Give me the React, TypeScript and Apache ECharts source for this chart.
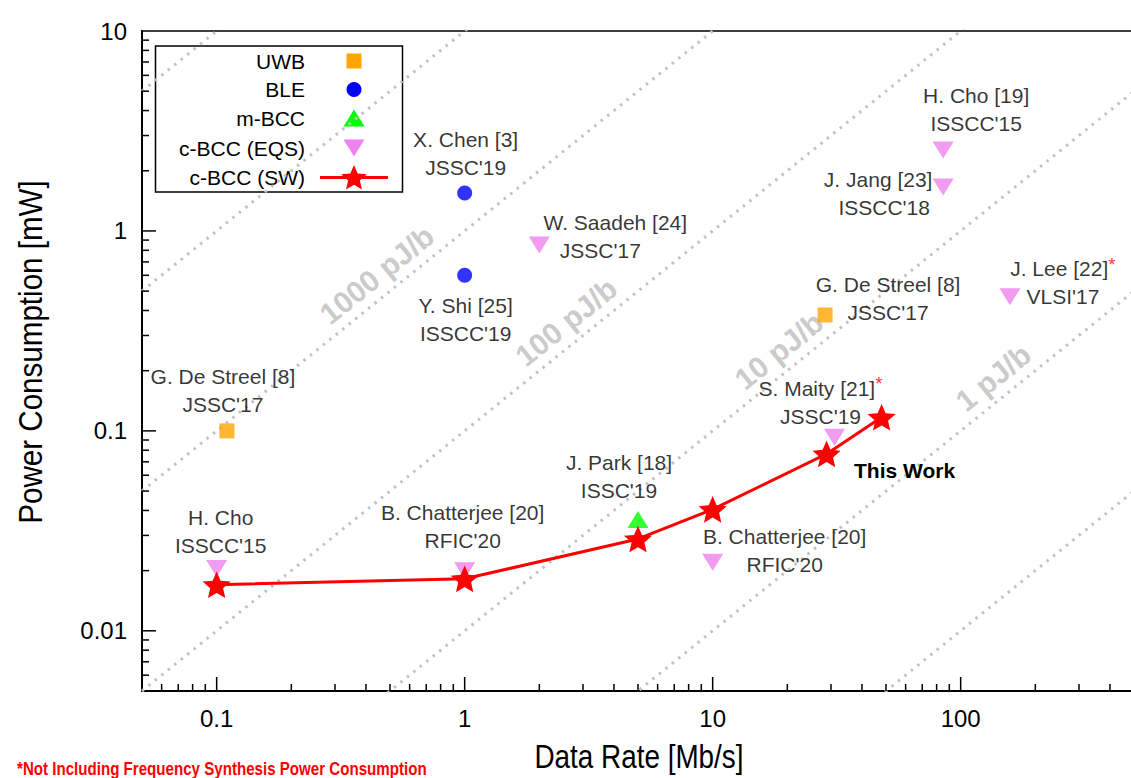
import React, { useEffect, useRef } from "react";
import * as echarts from "echarts";

// ---------------- data ----------------
const uwbRate = [0.11, 28.4];
const uwbPower = [0.1, 0.38];
const uwbRef = ["G. De Streel [8]", "G. De Streel [8]"];
const uwbVenue = ["JSSC'17", "JSSC'17"];

const bleRate = [1, 1];
const blePower = [1.55, 0.6];
const bleRef = ["X. Chen [3]", "Y. Shi [25]"];
const bleVenue = ["JSSC'19", "ISSCC'19"];

const mbccRate = [5];
const mbccPower = [0.036];
const mbccRef = ["J. Park [18]"];
const mbccVenue = ["ISSC'19"];

const eqsRate = [0.1, 1, 2, 10, 31, 85, 85, 158];
const eqsPower = [0.0205, 0.02, 0.85, 0.022, 0.093, 2.54, 1.66, 0.469];
const eqsRef = [
  "H. Cho",
  "B. Chatterjee [20]",
  "W. Saadeh [24]",
  "B. Chatterjee [20]",
  "S. Maity [21]",
  "H. Cho [19]",
  "J. Jang [23]",
  "J. Lee [22]",
];
const eqsVenue = ["ISSCC'15", "RFIC'20", "JSSC'17", "RFIC'20", "JSSC'19", "ISSCC'15", "ISSCC'18", "VLSI'17"];
const eqsStarred = [false, false, false, false, true, false, false, true];

const swRate = [0.1, 1, 5, 10, 28.8, 48];
const swPower = [0.017, 0.0182, 0.0288, 0.0405, 0.0767, 0.117];
const swLabel = "This Work";

// iso-energy lines (pJ/b)
const energyLevels = [100000, 10000, 1000, 100, 10, 1, 0.1];
const energyLabelLevels = [1000, 100, 10, 1];
const energyLabelText = ["1000 pJ/b", "100 pJ/b", "10 pJ/b", "1 pJ/b"];
const energyLabelRate = [0.5, 2.9, 20.9, 153];

const xMajorTicks = [0.1, 1, 10, 100];
const xMinorTicks = [
  0.06, 0.07, 0.08, 0.09, 0.2, 0.3, 0.4, 0.5, 0.6, 0.7, 0.8, 0.9, 2, 3, 4, 5, 6, 7, 8, 9, 20, 30, 40, 50, 60,
  70, 80, 90, 200, 300, 400,
];
const yMajorTicks = [0.01, 0.1, 1];
const yMinorTicks = [
  0.006, 0.007, 0.008, 0.009, 0.02, 0.03, 0.04, 0.05, 0.06, 0.07, 0.08, 0.09, 0.2, 0.3, 0.4, 0.5, 0.6, 0.7, 0.8,
  0.9, 2, 3, 4, 5, 6, 7, 8, 9,
];
const X_MIN = 0.05;
const X_MAX = 500;
const Y_MIN = 0.005;
const Y_MAX = 10;

const legendNames = ["UWB", "BLE", "m-BCC", "c-BCC (EQS)", "c-BCC (SW)"];

// ---------------- layout / style ----------------
const FONT_S = "'Liberation Sans', Arial, Helvetica, sans-serif";
const C_UWB = "#FFA500";
const C_BLE = "#0000FF";
const C_MBCC = "#00FF00";
const C_EQS = "#EE82EE";
const C_SW = "#FF0000";

const uwbOffset = [[-4, -40], [63, -16]];
const bleOffset = [[1, -39.5], [1, 44]];
const mbccOffset = [[-19, -43]];
const eqsOffset = [[4, -37], [-2, -44], [76, -9], [72, -11.5], [-14, -35], [33, -40], [-65, 7], [53, -14]];
const eqsLine2Shift = [0, 0, -15, 0, 0, 0, 6, 0];

function starPoints(cx: number, cy: number, R: number, r: number) {
  const pts: number[][] = [];
  for (let k = 0; k < 10; k++) {
    const a = -Math.PI / 2 + (k * Math.PI) / 5;
    const rad = k % 2 === 0 ? R : r;
    pts.push([cx + rad * Math.cos(a), cy + rad * Math.sin(a)]);
  }
  return pts;
}
const starPath =
  "path://" +
  starPoints(50, 50, 50, 23)
    .map((p, i) => (i === 0 ? "M" : "L") + p[0].toFixed(2) + "," + p[1].toFixed(2))
    .join(" ") +
  " Z";

const annoBase = { fontFamily: FONT_S, fontSize: 21, color: "#000", lineHeight: 28 };

function annoLabel(ref: string, venue: string, starred: boolean, offset: number[], shift = 0) {
  const first = starred ? `{a|${ref}}{s|*}` : `{a|${ref}}`;
  const pad = shift > 0 ? [0, 0, 0, 2 * shift] : [0, -2 * shift, 0, 0];
  return {
    show: true,
    position: "inside",
    offset,
    formatter: `${first}\n{b|${venue}}`,
    rich: {
      a: { ...annoBase },
      b: { ...annoBase, padding: pad },
      s: { fontFamily: FONT_S, fontSize: 19, color: "#ff0000", lineHeight: 28, verticalAlign: "top" },
    },
  };
}

function fmtNum(v: number) {
  return String(parseFloat(Number(v).toPrecision(6)));
}

function buildOption(): any {
  const series: any[] = [];

  // iso-energy dotted lines
  energyLevels.forEach((E) => {
    series.push({
      type: "line",
      data: [
        [X_MIN, (E * X_MIN) / 1000],
        [X_MAX, (E * X_MAX) / 1000],
      ],
      symbol: "none",
      showSymbol: false,
      silent: true,
      clip: true,
      z: 1,
      lineStyle: { color: "#c2c2c2", width: 3, type: [2.5, 5.8] },
    });
  });

  // iso-energy labels
  series.push({
    type: "scatter",
    silent: true,
    symbolSize: 1,
    itemStyle: { color: "rgba(0,0,0,0)" },
    z: 2,
    data: energyLabelLevels.map((E, i) => ({
      value: [energyLabelRate[i], (E * energyLabelRate[i]) / 1000],
      label: { formatter: energyLabelText[i] },
    })),
    label: {
      show: true,
      position: "inside",
      rotate: 38.9,
      offset: [0, -21],
      fontFamily: FONT_S,
      fontWeight: "bold",
      fontSize: 30,
      color: "#bdbdbd",
    },
  });

  // ticks
  const tickSeries = (vals: number[], axis: "x" | "y", len: number) => ({
    type: "custom",
    silent: true,
    z: 20,
    data: vals.map((v) => (axis === "x" ? [v, Y_MIN] : [X_MIN, v])),
    renderItem: (_p: any, api: any) => {
      const p = api.coord([api.value(0), api.value(1)]);
      return {
        type: "line",
        shape:
          axis === "x"
            ? { x1: p[0], y1: p[1], x2: p[0], y2: p[1] - len }
            : { x1: p[0], y1: p[1], x2: p[0] + len, y2: p[1] },
        style: { stroke: "#000", lineWidth: 1.5 },
      };
    },
  });
  series.push(tickSeries(xMajorTicks, "x", 14));
  series.push(tickSeries(xMinorTicks, "x", 7));
  series.push(tickSeries(yMajorTicks, "y", 14));
  series.push(tickSeries(yMinorTicks, "y", 7));

  series.push({
    name: "UWB",
    type: "scatter",
    silent: true,
    symbol: "rect",
    symbolSize: 15,
    itemStyle: { color: C_UWB },
    z: 10,
    data: uwbRate.map((r, i) => ({
      value: [r, uwbPower[i]],
      label: annoLabel(uwbRef[i], uwbVenue[i], false, uwbOffset[i]),
    })),
  });
  series.push({
    name: "BLE",
    type: "scatter",
    silent: true,
    symbol: "circle",
    symbolSize: 15,
    itemStyle: { color: C_BLE },
    z: 10,
    data: bleRate.map((r, i) => ({
      value: [r, blePower[i]],
      label: annoLabel(bleRef[i], bleVenue[i], false, bleOffset[i]),
    })),
  });
  series.push({
    name: "m-BCC",
    type: "scatter",
    silent: true,
    symbol: "triangle",
    symbolSize: [21, 17],
    itemStyle: { color: C_MBCC },
    z: 10,
    data: mbccRate.map((r, i) => ({
      value: [r, mbccPower[i]],
      label: annoLabel(mbccRef[i], mbccVenue[i], false, mbccOffset[i]),
    })),
  });
  series.push({
    name: "c-BCC (EQS)",
    type: "scatter",
    silent: true,
    symbol: "triangle",
    symbolRotate: 180,
    symbolSize: [21, 17],
    itemStyle: { color: C_EQS },
    z: 10,
    data: eqsRate.map((r, i) => ({
      value: [r, eqsPower[i]],
      label: annoLabel(eqsRef[i], eqsVenue[i], eqsStarred[i], eqsOffset[i], eqsLine2Shift[i]),
    })),
  });
  series.push({
    name: "c-BCC (SW)",
    type: "line",
    silent: true,
    symbol: starPath,
    symbolKeepAspect: true,
    symbolSize: 28,
    showSymbol: true,
    itemStyle: { color: C_SW },
    lineStyle: { color: C_SW, width: 3 },
    z: 12,
    data: swRate.map((r, i) =>
      i === swRate.length - 1
        ? {
            value: [r, swPower[i]],
            label: {
              show: true,
              position: "inside",
              offset: [23, 53],
              formatter: swLabel,
              fontFamily: FONT_S,
              fontWeight: "bold",
              fontSize: 21,
              color: "#000",
            },
          }
        : { value: [r, swPower[i]] }
    ),
  });

  // legend (drawn)
  const lx = 305;
  const sx = 354;
  const rows = [61, 89.5, 118, 148, 177.5];
  const legendChildren: any[] = [
    {
      type: "rect",
      shape: { x: 155.5, y: 46, width: 247, height: 146 },
      style: { fill: "#fff", stroke: "#000", lineWidth: 1.5 },
    },
  ];
  legendNames.forEach((n, i) => {
    legendChildren.push({
      type: "text",
      x: lx,
      y: rows[i],
      style: {
        text: n,
        fontFamily: FONT_S,
        fontSize: 21,
        fill: "#000",
        align: "right",
        verticalAlign: "middle",
        textAlign: "right",
        textVerticalAlign: "middle",
      },
    });
  });
  legendChildren.push({
    type: "rect",
    shape: { x: sx - 7.5, y: rows[0] - 7.5, width: 15, height: 15 },
    style: { fill: C_UWB },
  });
  legendChildren.push({ type: "circle", shape: { cx: sx, cy: rows[1], r: 7.5 }, style: { fill: C_BLE } });
  legendChildren.push({
    type: "polygon",
    shape: { points: [[sx, rows[2] - 8.5], [sx + 10.5, rows[2] + 8.5], [sx - 10.5, rows[2] + 8.5]] },
    style: { fill: C_MBCC },
  });
  legendChildren.push({
    type: "polygon",
    shape: { points: [[sx - 10.5, rows[3] - 8.5], [sx + 10.5, rows[3] - 8.5], [sx, rows[3] + 8.5]] },
    style: { fill: C_EQS },
  });
  legendChildren.push({
    type: "line",
    shape: { x1: 320, y1: rows[4], x2: 388, y2: rows[4] },
    style: { stroke: C_SW, lineWidth: 3 },
  });
  legendChildren.push({
    type: "polygon",
    shape: { points: starPoints(sx, rows[4] + 1, 13.5, 6.2) },
    style: { fill: C_SW },
  });

  const graphic: any[] = [
    { type: "group", z: 100, children: legendChildren },
    {
      type: "text",
      x: 639,
      y: 757,
      scaleX: 0.82,
      z: 100,
      style: {
        text: "Data Rate [Mb/s]",
        fontFamily: FONT_S,
        fontSize: 34,
        fill: "#000",
        align: "center",
        verticalAlign: "middle",
        textAlign: "center",
        textVerticalAlign: "middle",
      },
    },
    {
      type: "text",
      x: 30,
      y: 352,
      rotation: Math.PI / 2,
      scaleX: 0.87,
      z: 100,
      style: {
        text: "Power Consumption [mW]",
        fontFamily: FONT_S,
        fontSize: 34,
        fill: "#000",
        align: "center",
        verticalAlign: "middle",
        textAlign: "center",
        textVerticalAlign: "middle",
      },
    },
    {
      type: "text",
      x: 17,
      y: 769,
      scaleX: 0.84,
      z: 100,
      style: {
        text: "*Not Including Frequency Synthesis Power Consumption",
        fontFamily: FONT_S,
        fontWeight: "bold",
        fontSize: 18,
        fill: "#ff0000",
        align: "left",
        verticalAlign: "middle",
        textAlign: "left",
        textVerticalAlign: "middle",
      },
    },
  ];

  return {
    animation: false,
    backgroundColor: "#fff",
    grid: {
      left: 142,
      top: 31,
      right: -3,
      bottom: 87,
      show: true,
      borderColor: "#000",
      borderWidth: 1.5,
      backgroundColor: "transparent",
      containLabel: false,
      outerBoundsMode: "none",
    },
    xAxis: {
      type: "log",
      logBase: 10,
      min: X_MIN,
      max: X_MAX,
      axisLine: { show: true, onZero: false, lineStyle: { color: "#000", width: 2 } },
      axisTick: { show: false },
      splitLine: { show: false },
      axisLabel: {
        fontFamily: FONT_S,
        fontSize: 24,
        color: "#000",
        margin: 15,
        showMinLabel: false,
        showMaxLabel: false,
        formatter: (v: number) => fmtNum(v),
      },
    },
    yAxis: {
      type: "log",
      logBase: 10,
      min: Y_MIN,
      max: Y_MAX,
      axisLine: { show: true, onZero: false, lineStyle: { color: "#000", width: 2 } },
      axisTick: { show: false },
      splitLine: { show: false },
      axisLabel: {
        fontFamily: FONT_S,
        fontSize: 24,
        color: "#000",
        margin: 15,
        showMinLabel: false,
        showMaxLabel: true,
        formatter: (v: number) => fmtNum(v),
      },
    },
    graphic,
    series,
  };
}

export default function App() {
  const ref = useRef<HTMLDivElement>(null);
  useEffect(() => {
    if (!ref.current) return;
    const chart = echarts.init(ref.current, null, { renderer: "svg" });
    chart.setOption(buildOption());
    return () => {
      chart.dispose();
    };
  }, []);
  return (
    <div
      ref={ref}
      style={{
        position: "absolute",
        left: 0,
        top: 0,
        width: 1131,
        height: 778,
        overflow: "hidden",
        background: "#fff",
      }}
    />
  );
}
